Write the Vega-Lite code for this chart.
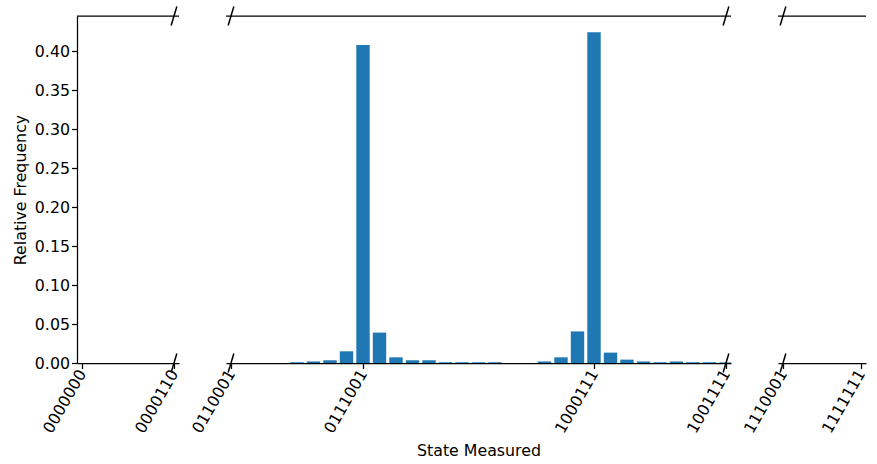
{
  "$schema": "https://vega.github.io/schema/vega-lite/v6.json",
  "padding": {"left": 12, "top": 3, "right": 0, "bottom": 5},
  "background": "white",
  "bounds": "flush",
  "spacing": 47,
  "config": {
    "font": "DejaVu Sans",
    "view": {"stroke": null},
    "axis": {
      "labelFont": "DejaVu Sans", "titleFont": "DejaVu Sans",
      "labelFontSize": 15.8, "titleFontSize": 15.8, "titleFontWeight": "normal",
      "labelColor": "black", "titleColor": "black",
      "domainColor": "black", "tickColor": "black", "domainWidth": 1.25, "tickWidth": 1.25, "tickSize": 5.5,
      "grid": false
    }
  },
  "datasets": {
    "freq": [
      {"state": 53, "freq": 0.001},
      {"state": 54, "freq": 0.002},
      {"state": 55, "freq": 0.0035},
      {"state": 56, "freq": 0.015},
      {"state": 57, "freq": 0.4077},
      {"state": 58, "freq": 0.039},
      {"state": 59, "freq": 0.0073},
      {"state": 60, "freq": 0.0035},
      {"state": 61, "freq": 0.0035},
      {"state": 62, "freq": 0.001},
      {"state": 63, "freq": 0.001},
      {"state": 64, "freq": 0.001},
      {"state": 65, "freq": 0.001},
      {"state": 68, "freq": 0.002},
      {"state": 69, "freq": 0.0073},
      {"state": 70, "freq": 0.0405},
      {"state": 71, "freq": 0.4240},
      {"state": 72, "freq": 0.0133},
      {"state": 73, "freq": 0.0043},
      {"state": 74, "freq": 0.002},
      {"state": 75, "freq": 0.001},
      {"state": 76, "freq": 0.002},
      {"state": 77, "freq": 0.001},
      {"state": 78, "freq": 0.001},
      {"state": 79, "freq": 0.0008}
    ],
    "top": [{"ytop": 0.4449}]
  },
  "hconcat": [
    {
      "width": 102, "height": 347,
      "layer": [
        {
          "data": {"name": "freq"},
          "mark": {"type": "bar", "color": "#1f77b4", "width": 13.4, "clip": true},
          "encoding": {
            "x": {"field": "state", "type": "quantitative", "scale": {"domain": [0, 6], "nice": false, "zero": false},
              "axis": {"values": [0, 6], "labelAngle": -60, "title": null,
                "labelExpr": "datum.value == 0 ? '0000000' : '0000110'"}},
            "y": {"field": "freq", "type": "quantitative", "scale": {"domain": [0, 0.4449], "nice": false},
              "axis": {"values": [0, 0.05, 0.1, 0.15, 0.2, 0.25, 0.3, 0.35, 0.4], "format": ".2f", "title": "Relative Frequency", "titlePadding": 6}}
          }
        },
        {
          "data": {"name": "top"},
          "mark": {"type": "rule", "color": "black", "strokeWidth": 1.25},
          "encoding": {"y": {"field": "ytop", "type": "quantitative"}}
        },
        {
          "data": {"values": [{"bx": 6, "by": 0}, {"bx": 6, "by": 0.4449}]},
          "mark": {"type": "point", "shape": "M-0.3,1L0.3,-1", "size": 360, "stroke": "black", "strokeWidth": 1.5, "opacity": 1, "filled": false},
          "encoding": {
            "x": {"field": "bx", "type": "quantitative"},
            "y": {"field": "by", "type": "quantitative"}
          }
        }
      ]
    },
    {
      "width": 505, "height": 347,
      "layer": [
        {
          "data": {"name": "freq"},
          "mark": {"type": "bar", "color": "#1f77b4", "width": 13.4, "clip": true},
          "encoding": {
            "x": {"field": "state", "type": "quantitative", "scale": {"domain": [49, 79], "nice": false, "zero": false},
              "axis": {"values": [49, 57, 71, 79], "labelAngle": -60, "title": "State Measured", "titlePadding": 8,
                "labelExpr": "datum.value == 49 ? '0110001' : datum.value == 57 ? '0111001' : datum.value == 71 ? '1000111' : '1001111'"}},
            "y": {"field": "freq", "type": "quantitative", "scale": {"domain": [0, 0.4449], "nice": false}, "axis": null}
          }
        },
        {
          "data": {"name": "top"},
          "mark": {"type": "rule", "color": "black", "strokeWidth": 1.25},
          "encoding": {"y": {"field": "ytop", "type": "quantitative"}}
        },
        {
          "data": {"values": [{"bx": 49, "by": 0}, {"bx": 49, "by": 0.4449}, {"bx": 79, "by": 0}, {"bx": 79, "by": 0.4449}]},
          "mark": {"type": "point", "shape": "M-0.3,1L0.3,-1", "size": 360, "stroke": "black", "strokeWidth": 1.5, "opacity": 1, "filled": false},
          "encoding": {
            "x": {"field": "bx", "type": "quantitative"},
            "y": {"field": "by", "type": "quantitative"}
          }
        }
      ]
    },
    {
      "width": 88, "height": 347,
      "layer": [
        {
          "data": {"name": "freq"},
          "mark": {"type": "bar", "color": "#1f77b4", "width": 13.4, "clip": true},
          "encoding": {
            "x": {"field": "state", "type": "quantitative", "scale": {"domain": [113, 127], "nice": false, "zero": false},
              "axis": {"values": [113, 127], "labelAngle": -60, "title": null,
                "labelExpr": "datum.value == 113 ? '1110001' : '1111111'"}},
            "y": {"field": "freq", "type": "quantitative", "scale": {"domain": [0, 0.4449], "nice": false}, "axis": null}
          }
        },
        {
          "data": {"name": "top"},
          "mark": {"type": "rule", "color": "black", "strokeWidth": 1.25},
          "encoding": {"y": {"field": "ytop", "type": "quantitative"}}
        },
        {
          "data": {"values": [{"bx": 113, "by": 0}, {"bx": 113, "by": 0.4449}]},
          "mark": {"type": "point", "shape": "M-0.3,1L0.3,-1", "size": 360, "stroke": "black", "strokeWidth": 1.5, "opacity": 1, "filled": false},
          "encoding": {
            "x": {"field": "bx", "type": "quantitative"},
            "y": {"field": "by", "type": "quantitative"}
          }
        }
      ]
    }
  ]
}
